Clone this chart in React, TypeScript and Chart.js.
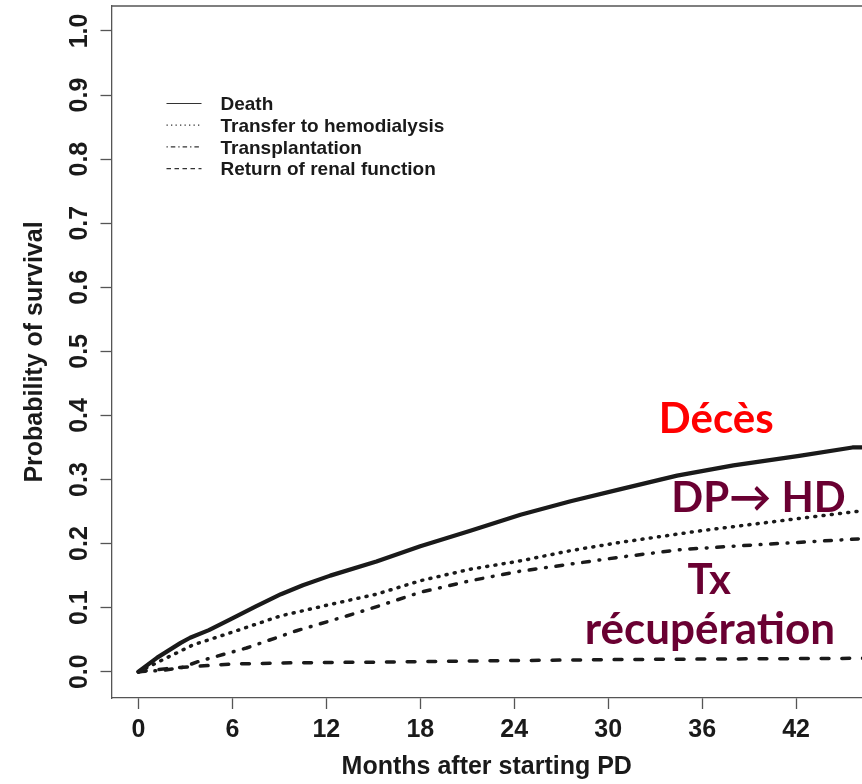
import React, { useEffect, useRef } from "react";
import { Chart, registerables } from "chart.js";

Chart.register(...registerables);

// ---- data ----
const deathMonths = [0, 1.2, 2.7, 3.3, 4.5, 5.9, 7.5, 9.1, 10.5, 12.25, 15.2, 18, 21.2, 24.4, 27.6, 30.8, 34.4, 38, 42.2, 45.6, 46.5];
const deathValues = [0, 0.022, 0.045, 0.053, 0.065, 0.082, 0.102, 0.121, 0.135, 0.15, 0.172, 0.196, 0.22, 0.245, 0.266, 0.285, 0.306, 0.322, 0.337, 0.35, 0.35];

const transferMonths = [0, 1.83, 3.5, 5.9, 9.06, 12.25, 15.2, 18, 21.2, 24.4, 27.6, 30.8, 35.9, 41.8, 46.5];
const transferValues = [0, 0.022, 0.042, 0.061, 0.087, 0.105, 0.121, 0.142, 0.16, 0.173, 0.189, 0.202, 0.22, 0.238, 0.252];

const transplantMonths = [0, 1.5, 2.7, 3.96, 6.9, 10.1, 13.3, 15.4, 18, 21.2, 24.4, 27.6, 30.8, 34.8, 40.1, 46.5];
const transplantValues = [0, 0.002, 0.006, 0.017, 0.037, 0.064, 0.087, 0.103, 0.124, 0.142, 0.157, 0.168, 0.179, 0.191, 0.199, 0.208];

const recoveryMonths = [0, 2.24, 5.9, 10, 15.2, 22, 30.8, 38, 46.5];
const recoveryValues = [0, 0.006, 0.012, 0.014, 0.015, 0.017, 0.019, 0.02, 0.021];

const seriesLabels = ["Death", "Transfer to hemodialysis", "Transplantation", "Return of renal function"];

const xTicks = [0, 6, 12, 18, 24, 30, 36, 42];
const yTicks = [0, 0.1, 0.2, 0.3, 0.4, 0.5, 0.6, 0.7, 0.8, 0.9, 1.0];

const xTitle = "Months after starting PD";
const yTitle = "Probability of survival";

const noteTexts = ["Décès", "DP\u2192 HD", "Tx", "récupération"];
const noteMonths = [36.9, 39.6, 36.45, 36.5];
const noteValues = [0.373, 0.2486, 0.121, 0.0428];
const noteColors = ["#ff0000", "#6a0032", "#6a0032", "#6a0032"];
const noteSizes = [42, 42, 42, 44];

// ---- styles ----
const INK = "#1a1a1a";
const AXIS = "#555555";
const AXIS_FONT = "'Liberation Sans', Arial, sans-serif";
const lineStyles = [
  { width: 4.2, dash: [] as number[], legendDash: [] as number[] },
  { width: 3.5, dash: [1, 7.3], legendDash: [1.3, 3.2] },
  { width: 3.5, dash: [6.8, 9.7, 0.8, 9.7], legendDash: [1.3, 3, 4.5, 3] },
  { width: 3.5, dash: [7.8, 12.9], legendDash: [4.5, 3.5] },
];

const toPoints = (xs: number[], ys: number[]) => xs.map((x, i) => ({ x, y: ys[i] }));

const framePlugin = {
  id: "frameTop",
  afterDraw(chart: any) {
    const { ctx, chartArea } = chart;
    ctx.save();
    ctx.strokeStyle = AXIS;
    ctx.lineWidth = 1.3;
    ctx.beginPath();
    ctx.moveTo(chartArea.left, chartArea.top);
    ctx.lineTo(chartArea.right, chartArea.top);
    ctx.stroke();
    ctx.restore();
  },
};

const legendPlugin = {
  id: "rLegend",
  afterDraw(chart: any) {
    const { ctx, chartArea } = chart;
    const x0 = chartArea.left + 55;
    const x1 = chartArea.left + 90;
    const tx = chartArea.left + 109;
    const y0 = chartArea.top + 97.5;
    const step = 21.7;
    ctx.save();
    chart.data.datasets.forEach((ds: any, i: number) => {
      const y = y0 + i * step;
      ctx.strokeStyle = "#333";
      ctx.lineWidth = 1.2;
      ctx.setLineDash(lineStyles[i].legendDash);
      ctx.beginPath();
      ctx.moveTo(x0, y);
      ctx.lineTo(x1, y);
      ctx.stroke();
      ctx.setLineDash([]);
      ctx.fillStyle = INK;
      ctx.font = `bold 19px ${AXIS_FONT}`;
      ctx.textAlign = "left";
      ctx.textBaseline = "middle";
      ctx.fillText(ds.label, tx, y + 1.5);
    });
    ctx.restore();
  },
};

const notesPlugin = {
  id: "notes",
  afterDraw(chart: any) {
    const { ctx, scales } = chart;
    ctx.save();
    ctx.textAlign = "center";
    ctx.textBaseline = "alphabetic";
    noteTexts.forEach((t, i) => {
      ctx.font = `bold ${noteSizes[i]}px Lato, 'Open Sans', sans-serif`;
      ctx.fillStyle = noteColors[i];
      ctx.fillText(t, scales.x.getPixelForValue(noteMonths[i]), scales.y.getPixelForValue(noteValues[i]));
    });
    ctx.restore();
  },
};

export default function App() {
  const canvasRef = useRef<HTMLCanvasElement | null>(null);

  useEffect(() => {
    const canvas = canvasRef.current;
    if (!canvas) return;
    const series = [
      toPoints(deathMonths, deathValues),
      toPoints(transferMonths, transferValues),
      toPoints(transplantMonths, transplantValues),
      toPoints(recoveryMonths, recoveryValues),
    ];
    const chart = new Chart(canvas, {
      type: "line",
      data: {
        datasets: series.map((data, i) => ({
          label: seriesLabels[i],
          data,
          borderColor: INK,
          backgroundColor: INK,
          borderWidth: lineStyles[i].width,
          borderDash: lineStyles[i].dash,
          borderCapStyle: "round",
          borderJoinStyle: "round",
          pointRadius: 0,
          tension: 0,
          fill: false,
        })),
      },
      options: {
        responsive: false,
        animation: false,
        devicePixelRatio: 1,
        layout: { padding: { top: 6, right: 0, bottom: 0, left: 0 } },
        plugins: {
          legend: { display: false },
          tooltip: { enabled: false },
        },
        scales: {
          x: {
            type: "linear",
            min: -1.72,
            max: 46.21,
            afterBuildTicks: (scale: any) => {
              scale.ticks = xTicks.map((v) => ({ value: v }));
            },
            grid: {
              drawOnChartArea: false,
              drawTicks: true,
              tickLength: 11,
              tickColor: AXIS,
              tickWidth: 1.3,
            },
            border: { display: true, color: AXIS, width: 1.3 },
            ticks: {
              color: INK,
              padding: 6,
              maxRotation: 0,
              font: { family: AXIS_FONT, size: 25, weight: "bold" },
              callback: (v: any) => String(v),
            },
            title: {
              display: true,
              text: xTitle,
              color: INK,
              font: { family: AXIS_FONT, size: 25, weight: "bold" },
              padding: { top: 1, bottom: 2 },
            },
          },
          y: {
            type: "linear",
            min: -0.041,
            max: 1.039,
            afterBuildTicks: (scale: any) => {
              scale.ticks = yTicks.map((v) => ({ value: v }));
            },
            grid: {
              drawOnChartArea: false,
              drawTicks: true,
              tickLength: 11,
              tickColor: AXIS,
              tickWidth: 1.3,
            },
            border: { display: true, color: AXIS, width: 1.3 },
            ticks: {
              color: INK,
              padding: 3,
              minRotation: 90,
              maxRotation: 90,
              crossAlign: "center",
              font: { family: AXIS_FONT, size: 25, weight: "bold", lineHeight: 0.1 },
              callback: (v: any) => Number(v).toFixed(1),
            },
            title: {
              display: true,
              text: yTitle,
              color: INK,
              font: { family: AXIS_FONT, size: 25, weight: "bold" },
              padding: { top: 20, bottom: 42 },
            },
          },
        },
      },
      plugins: [framePlugin, legendPlugin, notesPlugin],
    } as any);
    return () => chart.destroy();
  }, []);

  return (
    <div style={{ position: "absolute", left: 0, top: 0, width: 862, height: 784, background: "#fff", overflow: "hidden" }}>
      <canvas ref={canvasRef} width={862} height={784} style={{ display: "block", width: 862, height: 784 }} />
    </div>
  );
}
